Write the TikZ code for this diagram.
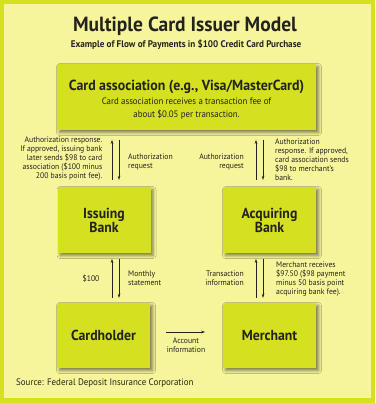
\documentclass[tikz,border=0pt]{standalone}
\usepackage{fontspec}
\setmainfont{PT Sans}[FakeStretch=0.95]
\usetikzlibrary{calc,shadows.blur,arrows.meta}
\definecolor{lime}{RGB}{212,224,32}
\definecolor{paper}{RGB}{247,245,155}
\definecolor{ink}{RGB}{34,34,30}
\tikzset{
  boxnode/.style={fill=lime, minimum width=93pt, minimum height=66pt, inner sep=0pt,
    text=ink, align=center, font=\bfseries\fontsize{14.5}{14}\selectfont,
    blur shadow={shadow xshift=2.5pt, shadow yshift=-2.5pt, shadow blur radius=3pt, shadow opacity=50}},
  lbl/.style={text=ink, inner sep=0pt, font=\fontsize{8.1}{9}\selectfont},
  arr/.style={draw=ink, line width=0.6pt, -{Stealth[length=4pt,width=2.6pt]}}
}
\begin{document}
\begin{tikzpicture}[x=1pt,y=-1pt]
\useasboundingbox (0,0) rectangle (375,403);
\fill[lime] (0,0) rectangle (375,403);
\fill[paper] (4,4) rectangle (371,398);
\node[text=ink, font=\bfseries\fontsize{20.5}{22}\selectfont] (title) at (185,26) {Multiple Card Issuer Model};
\node[text=ink, font=\bfseries\fontsize{9.6}{10}\selectfont] (sub) at (186,45) {Example of Flow of Payments in \$100 Credit Card Purchase};
\node[boxnode, minimum width=259pt, minimum height=66pt] (assoc) at (186.5,97) {};
\node[text=ink, font=\bfseries\fontsize{14.6}{15}\selectfont] (assochead) at (186.5,87) {Card association (e.g., Visa/MasterCard)};
\node[text=ink, align=center, font=\fontsize{9.3}{12.5}\selectfont] (assoctext) at (186.5,108.5) {Card association receives a transaction fee of\\about \$0.05 per transaction.};
\node[boxnode] (issuing) at (104,220) {Issuing\\Bank};
\node[boxnode] (acquiring) at (269.5,220) {Acquiring\\Bank};
\node[boxnode, minimum height=65pt] (cardholder) at (103.5,335.5) {Cardholder};
\node[boxnode, minimum height=65pt] (merchant) at (269.5,335.5) {Merchant};
% upper arrows
\draw[arr] (issuing.north) ++(8,-7) -- ++(0,-40);
\draw[arr] (issuing.north) ++(15,-47) -- ++(0,40);
\draw[arr] (acquiring.north) ++(-13.5,-7) -- ++(0,-40);
\draw[arr] (acquiring.north) ++(-6.5,-47) -- ++(0,40);
% lower arrows
\draw[arr] (cardholder.north) ++(8.5,-5) -- ++(0,-39);
\draw[arr] (cardholder.north) ++(15.5,-44) -- ++(0,39);
\draw[arr] (merchant.north) ++(-13.5,-5) -- ++(0,-39);
\draw[arr] (merchant.north) ++(-6.5,-44) -- ++(0,39);
\draw[arr] (cardholder.east) ++(16,-3.5) -- ++(39,0);
% labels
\node[lbl, anchor=east, align=right] (l1) at (102.5,159) {Authorization response.\\If approved, issuing bank\\later sends \$98 to card\\association (\$100 minus\\200 basis point fee).};
\node[lbl, anchor=west, align=left] (l2) at (128,161.5) {Authorization\\request};
\node[lbl, anchor=east, align=right] (l3) at (244,161.5) {Authorization\\request};
\node[lbl, anchor=west, align=left] (l4) at (275,159.5) {Authorization\\response. If approved,\\card association sends\\\$98 to merchant's\\bank.};
\node[lbl] (l5) at (91,279) {\$100};
\node[lbl, anchor=west, align=left] (l6) at (128,278.5) {Monthly\\statement};
\node[lbl, anchor=east, align=right] (l7) at (244,278.5) {Transaction\\information};
\node[lbl, anchor=west, align=left] (l8) at (276,279) {Merchant receives\\\$97.50 (\$98 payment\\minus 50 basis point\\acquiring bank fee).};
\node[lbl, align=center] (l9) at (186,345.5) {Account\\information};
\node[lbl, anchor=west, font=\fontsize{9.4}{10}\selectfont] (src) at (16,383) {Source: Federal Deposit Insurance Corporation};
\end{tikzpicture}
\end{document}
